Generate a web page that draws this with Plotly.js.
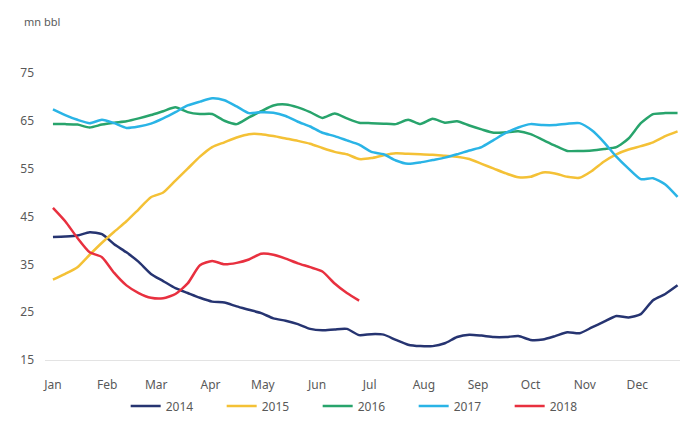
<!DOCTYPE html>
<html>
<head>
<meta charset="utf-8">
<script src="https://cdn.plot.ly/plotly-3.0.1.min.js"></script>
<style>
html,body{margin:0;padding:0;background:#fff;}
#chart{width:695px;height:434px;}
</style>
</head>
<body>
<div id="chart"></div>
<script>
// Week index (0 = first week of January)
const monthLabels = ["Jan","Feb","Mar","Apr","May","Jun","Jul","Aug","Sep","Oct","Nov","Dec"];
const monthStartWeeks = [0, 4.43, 8.43, 12.86, 17.14, 21.57, 25.86, 30.29, 34.71, 39, 43.43, 47.71];
const yTicks = [15, 25, 35, 45, 55, 65, 75];

const s2014 = [40.7,40.8,41,41.7,41.3,39.2,37.5,35.5,33,31.5,30,29,28,27.2,27,26.2,25.5,24.8,23.7,23.2,22.5,21.5,21.2,21.4,21.5,20.2,20.4,20.3,19.2,18.2,17.9,17.9,18.5,19.8,20.3,20.1,19.8,19.8,20,19.2,19.3,20,20.8,20.6,21.8,23,24.2,23.9,24.6,27.5,28.8,30.6];
const s2015 = [31.8,33,34.4,37,39.5,41.8,44,46.5,49,50,52.5,55,57.5,59.5,60.5,61.5,62.2,62.2,61.8,61.3,60.8,60.2,59.3,58.5,58,57,57.2,57.8,58.2,58.1,58,57.9,57.7,57.5,57,56,55,54,53.2,53.3,54.2,54,53.3,53.1,54.5,56.5,58,59,59.7,60.5,61.8,62.8];
const s2016 = [64.3,64.3,64.2,63.6,64.2,64.6,64.9,65.5,66.2,67,67.8,66.8,66.4,66.4,65,64.3,65.7,67,68.2,68.4,67.8,66.8,65.6,66.5,65.5,64.6,64.5,64.4,64.3,65.2,64.3,65.4,64.6,64.9,64,63.2,62.5,62.6,62.8,62.2,61,59.8,58.7,58.7,58.8,59.1,59.5,61.3,64.5,66.4,66.6,66.6];
const s2017 = [67.4,66.2,65.2,64.5,65.2,64.5,63.5,63.8,64.4,65.5,66.8,68.2,69,69.7,69.3,68,66.6,66.8,66.7,66,64.8,63.8,62.5,61.8,60.9,60,58.5,58,56.7,56,56.3,56.8,57.3,58,58.8,59.5,61,62.5,63.6,64.3,64.1,64.1,64.4,64.5,63,60.5,57.5,55,52.8,53,51.7,49.1];
const s2018 = [46.8,44,40.5,37.5,36.5,33.2,30.6,29,28,27.9,28.8,31,34.8,35.7,35,35.3,36,37.2,37,36.2,35.2,34.4,33.5,31,29,27.4];

const seriesNames = ["2014","2015","2016","2017","2018"];
const seriesData = [s2014, s2015, s2016, s2017, s2018];
const colors = ["#263471","#f4c136","#28a46c","#2ab4e6","#e8303f"];

const traces = seriesData.map((vals, i) => ({
  type: "scatter",
  mode: "lines",
  name: seriesNames[i],
  x: vals.map((_, k) => k),
  y: vals,
  line: {color: colors[i], width: 2.5, shape: "spline", smoothing: 0.6},
  hoverinfo: "skip"
}));

const font = {family: "Noto Sans, DejaVu Sans, sans-serif", size: 12, color: "#595959"};

const layout = {
  width: 695, height: 434,
  margin: {l: 45, r: 15, t: 49, b: 74},
  paper_bgcolor: "#ffffff",
  plot_bgcolor: "#ffffff",
  font: font,
  showlegend: true,
  legend: {
    orientation: "h", x: 0.505, xanchor: "center", y: -0.148, yanchor: "middle",
    font: font, entrywidth: 51, entrywidthmode: "pixels", itemwidth: 30
  },
  xaxis: {
    range: [-0.65, 51.2],
    tickvals: monthStartWeeks, ticktext: monthLabels,
    showgrid: false, zeroline: false,
    showline: true, linecolor: "#e3e3e3", linewidth: 1,
    ticks: "outside", ticklen: 14, tickcolor: "rgba(0,0,0,0)",
    tickfont: font, fixedrange: true
  },
  yaxis: {
    range: [15, 80],
    tickvals: yTicks,
    showgrid: false, zeroline: false, showline: false,
    ticks: "", ticklabelstandoff: 10,
    tickfont: font, fixedrange: true
  },
  annotations: [{
    text: "mn bbl", xref: "paper", yref: "paper",
    x: -0.036, y: 1.087, xanchor: "left", yanchor: "middle",
    showarrow: false, font: {family: font.family, size: 11, color: "#595959"}
  }]
};

Plotly.newPlot("chart", traces, layout, {displayModeBar: false, staticPlot: true});
</script>
</body>
</html>
